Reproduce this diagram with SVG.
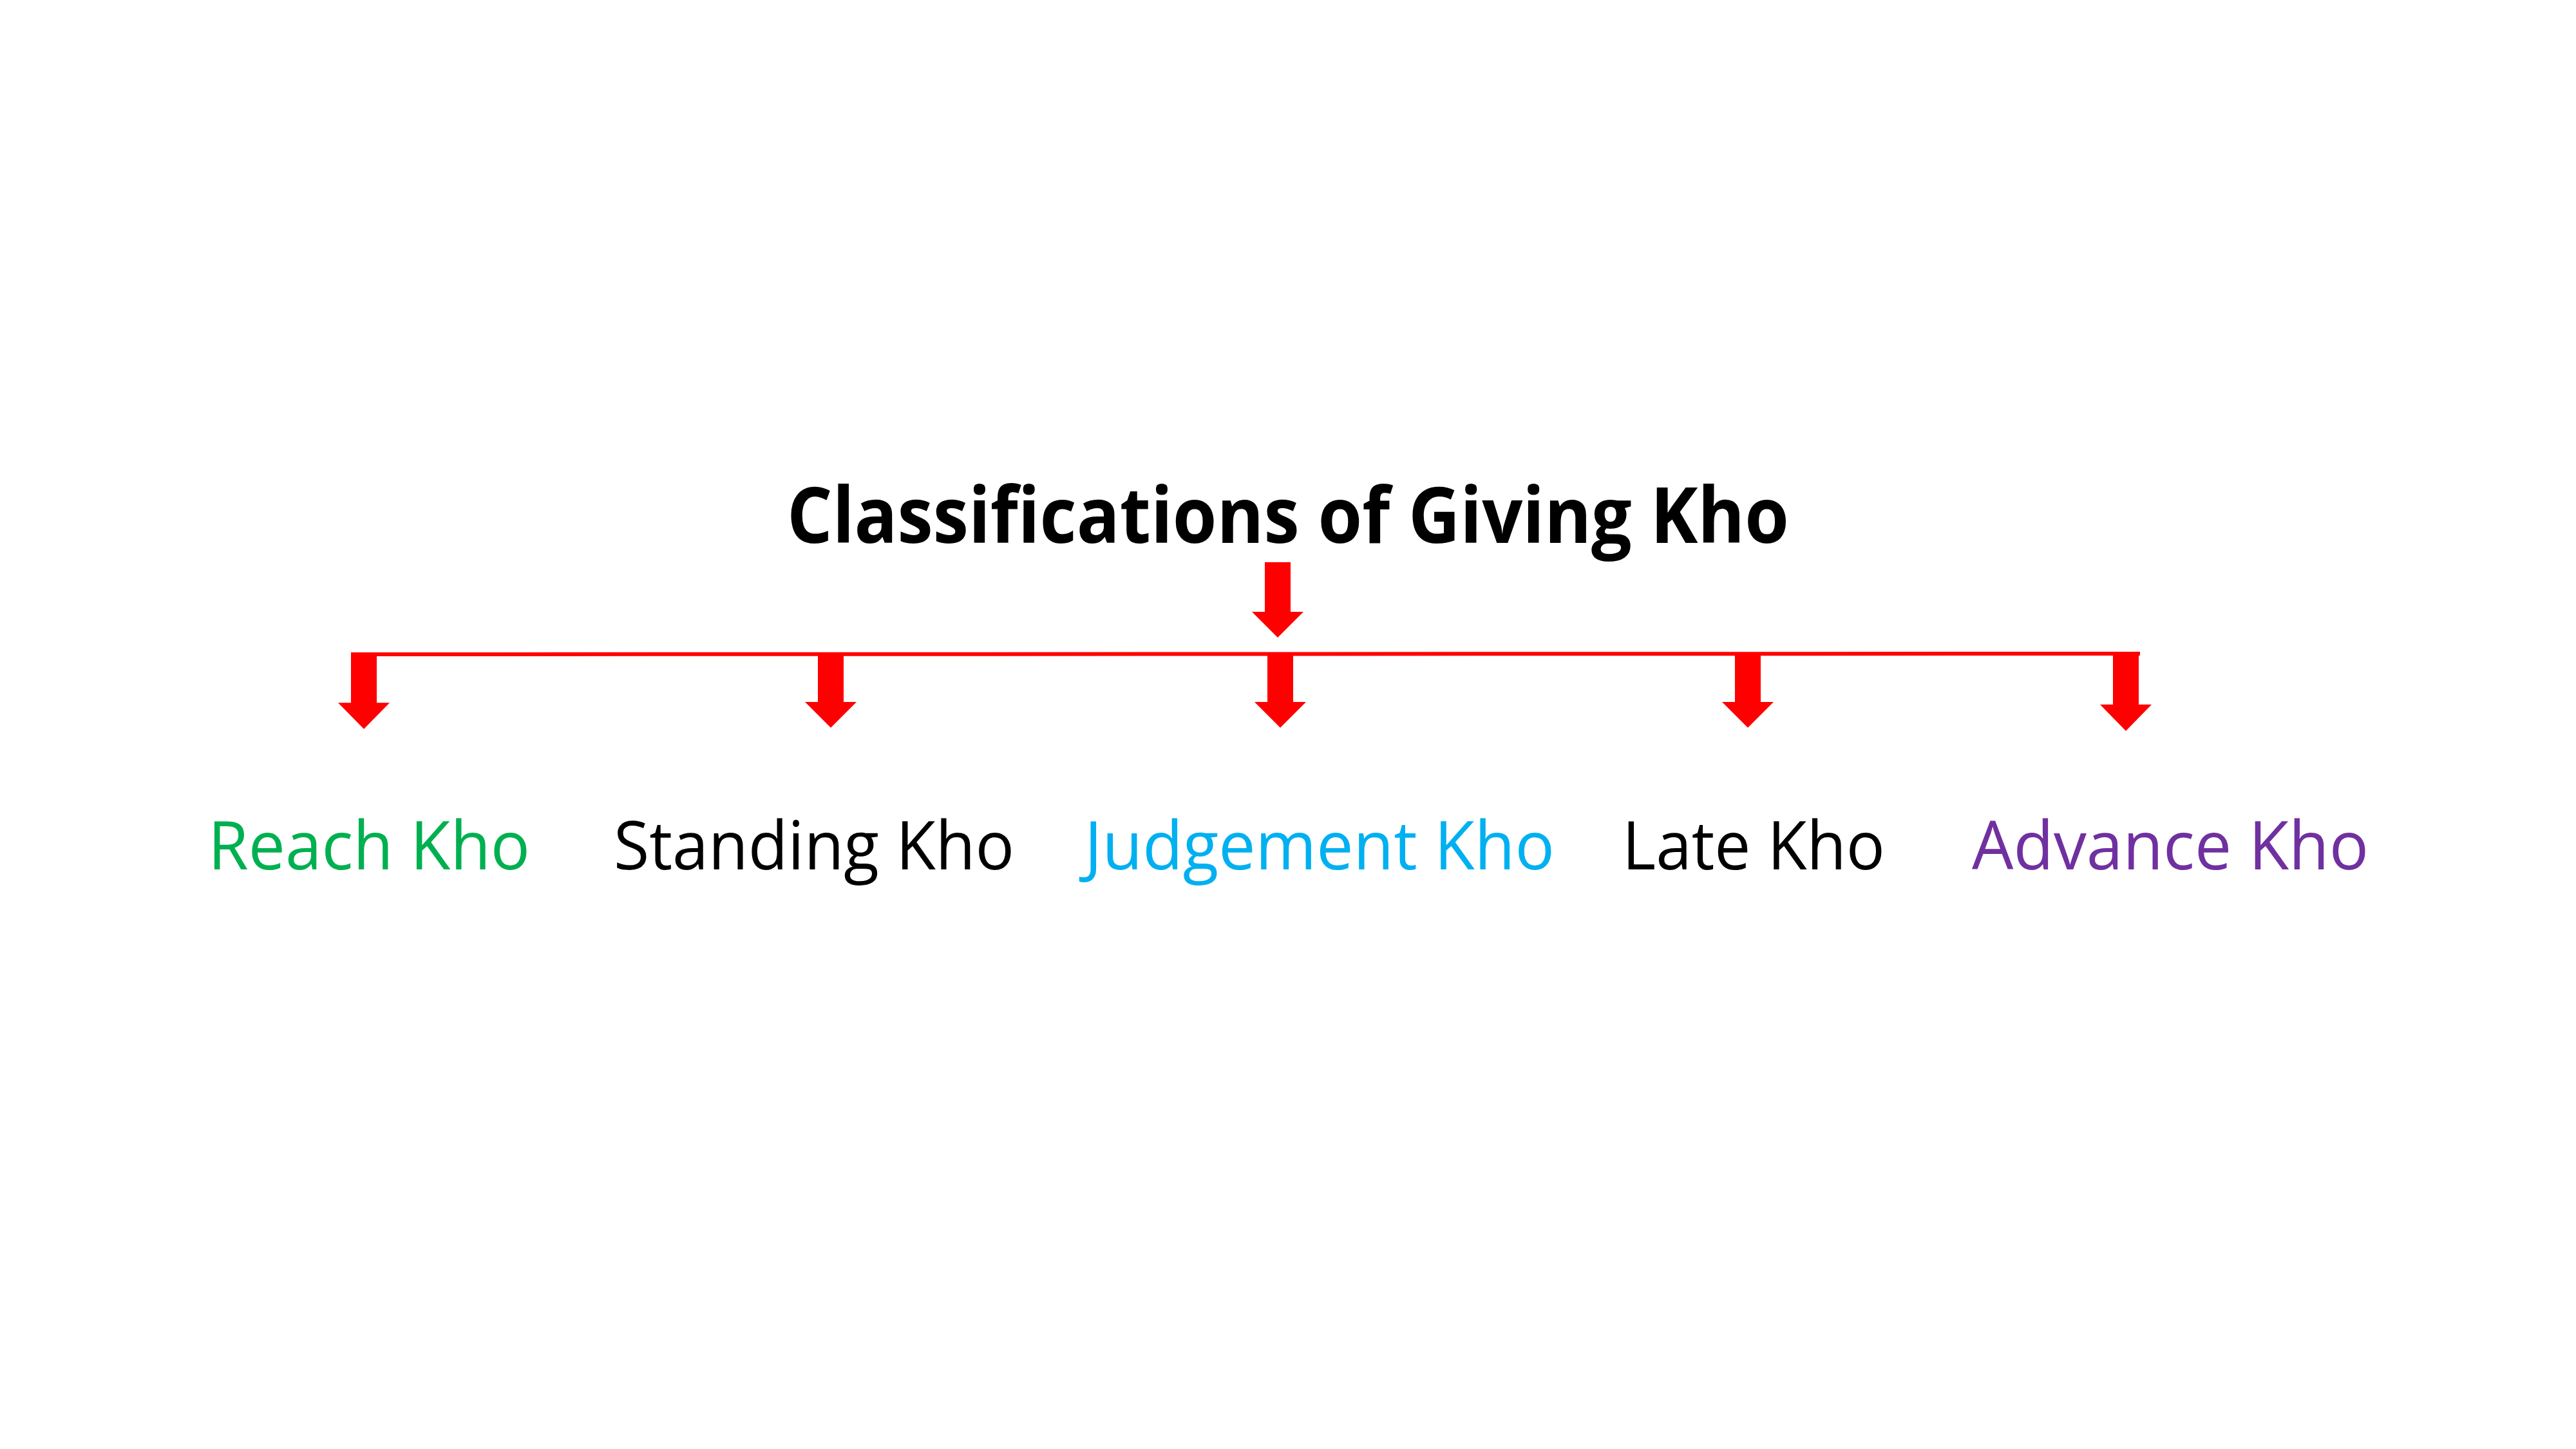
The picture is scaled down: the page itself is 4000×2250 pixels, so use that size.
<svg xmlns="http://www.w3.org/2000/svg" xmlns:xlink="http://www.w3.org/1999/xlink" width="4000" height="2250" viewBox="0 0 4000 2250">
  <style>
    .title { font-family: "Open Sans", "Noto Sans", "Liberation Sans", sans-serif; font-weight: bold; font-size: 120px; fill: #000000; }
    .label { font-family: "Open Sans", "Noto Sans", "Liberation Sans", sans-serif; font-size: 104px; }
    .arrow { fill: #FF0000; }
    .bar { stroke: #FF0000; stroke-width: 6; fill: none; }
  </style>
  <defs>
    <path id="arr" class="arrow" d="M-20,0 H20 V77 H40 L0,117 L-40,77 H-20 Z"/>
  </defs>
  <rect width="4000" height="2250" fill="#FFFFFF"/>
  <g id="title">
    <text class="title" x="1222" y="843" textLength="1556" lengthAdjust="spacingAndGlyphs">Classifications of Giving Kho</text>
  </g>
  <g id="connectors">
    <use xlink:href="#arr" href="#arr" transform="translate(1984,873)"/>
    <line class="bar" x1="545" y1="1016" x2="3323" y2="1015"/>
    <use xlink:href="#arr" href="#arr" transform="translate(565,1013) scale(1,1.017)"/>
    <use xlink:href="#arr" href="#arr" transform="translate(1290,1013)"/>
    <use xlink:href="#arr" href="#arr" transform="translate(1988,1013)"/>
    <use xlink:href="#arr" href="#arr" transform="translate(2714,1013)"/>
    <use xlink:href="#arr" href="#arr" transform="translate(3301,1015) scale(1,1.026)"/>
  </g>
  <g id="reach">
    <text class="label" x="323" y="1350" fill="#00B050" textLength="500" lengthAdjust="spacingAndGlyphs">Reach Kho</text>
  </g>
  <g id="standing">
    <text class="label" x="953" y="1350" fill="#000000" textLength="622" lengthAdjust="spacingAndGlyphs">Standing Kho</text>
  </g>
  <g id="judgement">
    <text class="label" x="1684" y="1350" fill="#00B0F0" textLength="730" lengthAdjust="spacingAndGlyphs">Judgement Kho</text>
  </g>
  <g id="late">
    <text class="label" x="2519" y="1350" fill="#000000" textLength="408" lengthAdjust="spacingAndGlyphs">Late Kho</text>
  </g>
  <g id="advance">
    <text class="label" x="3062" y="1350" fill="#7030A0" textLength="616" lengthAdjust="spacingAndGlyphs">Advance Kho</text>
  </g>
</svg>
